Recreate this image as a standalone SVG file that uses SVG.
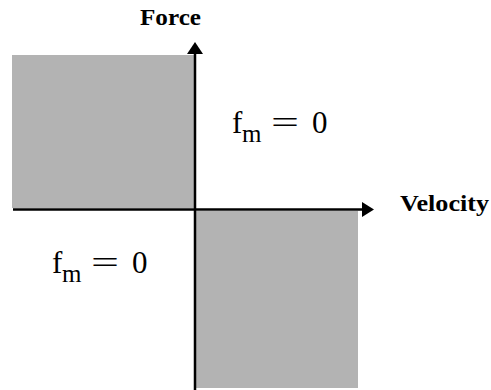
<svg xmlns="http://www.w3.org/2000/svg" width="491" height="390" viewBox="0 0 491 390">
<style>
.region{fill:#b3b3b3;stroke:none}
.axis{stroke:#000;stroke-width:2.5;fill:none}
.head{fill:#000}
</style>
<g id="region-upper-left"><rect class="region" x="12" y="55" width="182" height="153"/></g>
<g id="region-lower-right"><rect class="region" x="196" y="211" width="162" height="177"/></g>
<g id="connectors">
<line class="axis" x1="195" y1="52" x2="195" y2="390"/>
<polygon class="head" points="195,42 187,54 203,54"/>
<line class="axis" x1="13" y1="209.5" x2="364" y2="209.5"/>
<polygon class="head" points="374,209.5 362,202 362,217"/>
</g>
<g font-family="Liberation Serif, Times New Roman, serif" fill="#000">
<g id="label-force"><text x="140" y="25" font-weight="bold" font-size="24" textLength="61" lengthAdjust="spacingAndGlyphs">Force</text></g>
<g id="label-velocity"><text x="400" y="211" font-weight="bold" font-size="24" textLength="89" lengthAdjust="spacingAndGlyphs">Velocity</text></g>
<g id="label-fm-upper" font-size="31">
<text x="232" y="133">f</text><text x="242" y="142" font-size="25">m</text>
<text x="271" y="133" textLength="28" lengthAdjust="spacingAndGlyphs">=</text><text x="312" y="133">0</text>
</g>
<g id="label-fm-lower" font-size="31">
<text x="52" y="273">f</text><text x="62" y="282" font-size="25">m</text>
<text x="91" y="273" textLength="28" lengthAdjust="spacingAndGlyphs">=</text><text x="132" y="273">0</text>
</g>
</g>
</svg>
